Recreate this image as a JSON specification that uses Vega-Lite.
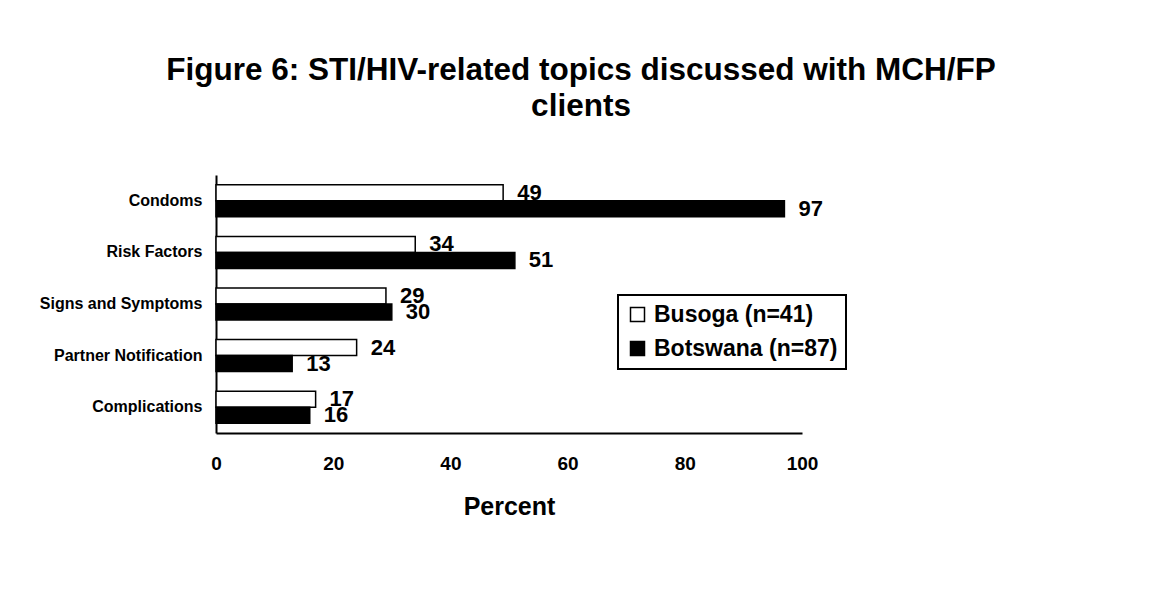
{
  "$schema": "https://vega.github.io/schema/vega-lite/v6.json",
  "width": 586,
  "height": 258,
  "autosize": {"type": "none"},
  "padding": {"left": 216, "top": 175, "right": 347, "bottom": 182},
  "background": "white",
  "title": {
    "text": ["Figure 6: STI/HIV-related topics discussed with MCH/FP", "clients"],
    "font": "Liberation Sans",
    "fontSize": 31.5,
    "fontWeight": "bold",
    "color": "black",
    "anchor": "middle",
    "dx": 72,
    "offset": 53,
    "lineHeight": 36
  },
  "data": {
    "values": [
      {"topic": "Condoms", "site": "Busoga (n=41)", "percent": 49},
      {"topic": "Condoms", "site": "Botswana (n=87)", "percent": 97},
      {"topic": "Risk Factors", "site": "Busoga (n=41)", "percent": 34},
      {"topic": "Risk Factors", "site": "Botswana (n=87)", "percent": 51},
      {"topic": "Signs and Symptoms", "site": "Busoga (n=41)", "percent": 29},
      {"topic": "Signs and Symptoms", "site": "Botswana (n=87)", "percent": 30},
      {"topic": "Partner Notification", "site": "Busoga (n=41)", "percent": 24},
      {"topic": "Partner Notification", "site": "Botswana (n=87)", "percent": 13},
      {"topic": "Complications", "site": "Busoga (n=41)", "percent": 17},
      {"topic": "Complications", "site": "Botswana (n=87)", "percent": 16}
    ]
  },
  "encoding": {
    "y": {
      "field": "topic",
      "type": "nominal",
      "sort": ["Condoms", "Risk Factors", "Signs and Symptoms", "Partner Notification", "Complications"],
      "title": null,
      "scale": {"paddingInner": 0.38, "paddingOuter": 0.19},
      "axis": {
        "domainColor": "black",
        "domainWidth": 2,
        "ticks": false,
        "grid": false,
        "labelFont": "Liberation Sans",
        "labelFontWeight": "bold",
        "labelFontSize": 16,
        "labelColor": "black",
        "labelPadding": 14,
        "labelLimit": 300
      }
    },
    "yOffset": {
      "field": "site",
      "type": "nominal",
      "sort": ["Busoga (n=41)", "Botswana (n=87)"]
    },
    "x": {
      "field": "percent",
      "type": "quantitative",
      "scale": {"domain": [0, 100]},
      "axis": {
        "values": [0, 20, 40, 60, 80, 100],
        "ticks": false,
        "grid": false,
        "domainColor": "black",
        "domainWidth": 2,
        "labelFont": "Liberation Sans",
        "labelFontWeight": "bold",
        "labelFontSize": 19,
        "labelColor": "black",
        "labelPadding": 21,
        "labelFlush": false,
        "title": "Percent",
        "titleFont": "Liberation Sans",
        "titleFontWeight": "bold",
        "titleFontSize": 25,
        "titleColor": "black",
        "titlePadding": 21
      }
    }
  },
  "layer": [
    {
      "mark": {
        "type": "text",
        "align": "left",
        "baseline": "middle",
        "dx": 14,
        "font": "Liberation Sans",
        "fontWeight": "bold",
        "fontSize": 22,
        "color": "black"
      },
      "encoding": {
        "text": {"field": "percent", "type": "quantitative"}
      }
    },
    {
      "mark": {"type": "bar", "stroke": "black", "strokeWidth": 1.5},
      "encoding": {
        "color": {
          "field": "site",
          "type": "nominal",
          "sort": ["Busoga (n=41)", "Botswana (n=87)"],
          "scale": {"domain": ["Busoga (n=41)", "Botswana (n=87)"], "range": ["white", "black"]},
          "legend": {
            "orient": "none",
            "legendX": 402,
            "legendY": 120,
            "title": null,
            "strokeColor": "black",
            "fillColor": "white",
            "padding": 8,
            "symbolType": "square",
            "symbolSize": 196,
            "symbolStrokeColor": "black",
            "symbolStrokeWidth": 1.5,
            "labelFont": "Liberation Sans",
            "labelFontWeight": "bold",
            "labelFontSize": 23,
            "labelColor": "black",
            "labelOffset": 5,
            "labelLimit": 400,
            "rowPadding": 10
          }
        }
      }
    }
  ],
  "config": {
    "view": {"stroke": null},
    "legend": {"strokeWidth": 2}
  }
}
